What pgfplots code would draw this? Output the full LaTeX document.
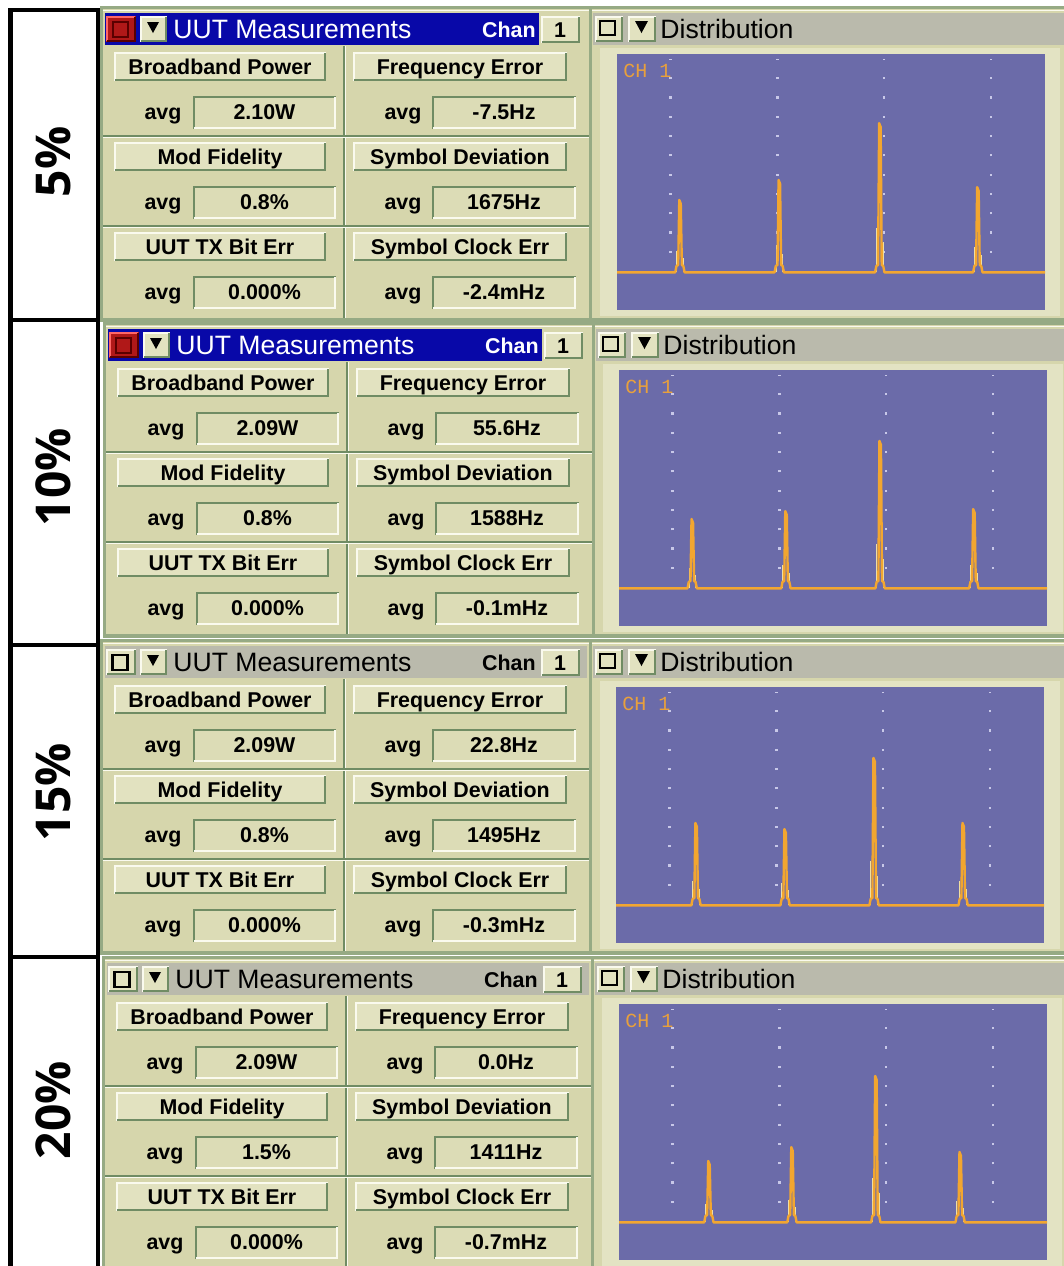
\documentclass[border=0pt]{standalone}
\usepackage{fontspec}
\setmainfont{Liberation Sans}
\newfontfamily\labelfont{Open Sans}
\newfontfamily\chfont{Liberation Mono}
\usepackage{pgfplots}
\pgfplotsset{compat=1.18}

\definecolor{panelbg}{RGB}{214,214,172}
\definecolor{btnface}{RGB}{226,226,192}
\definecolor{valbg}{RGB}{220,220,182}
\definecolor{hilite}{RGB}{250,250,238}
\definecolor{shadowc}{RGB}{112,140,100}
\definecolor{framec}{RGB}{150,170,132}
\definecolor{titlegrey}{RGB}{186,186,172}
\definecolor{titleblue}{RGB}{8,8,168}
\definecolor{redbtn}{RGB}{176,24,24}
\definecolor{darkred}{RGB}{90,0,0}
\definecolor{plotbg}{RGB}{107,107,169}
\definecolor{peakc}{RGB}{242,166,48}
\definecolor{palec}{RGB}{240,222,160}
\definecolor{gridc}{RGB}{200,200,232}
\definecolor{chcol}{RGB}{232,160,60}

\newcommand\bfs{\fontsize{10.7pt}{12pt}\selectfont\bfseries}
\newcommand\ttl{\fontsize{13.3pt}{16pt}\selectfont}
\newcommand\lab{\labelfont\bfseries\fontsize{24pt}{28pt}\selectfont}

\newcommand\raisedbox[4]{%
 \fill[btnface] (#1,#2) rectangle (#3,#4);
 \draw[hilite,line width=1pt] (#1+1,#4) -- (#1+1,#2+1) -- (#3,#2+1);
 \draw[shadowc,line width=1pt] (#1+1,#4-1) -- (#3-1,#4-1) -- (#3-1,#2+1);}
\newcommand\insetbox[4]{%
 \fill[valbg] (#1,#2) rectangle (#3,#4);
 \draw[shadowc,line width=1pt] (#1+1,#4) -- (#1+1,#2+1) -- (#3,#2+1);
 \draw[hilite,line width=1pt] (#1+1,#4-1) -- (#3-1,#4-1) -- (#3-1,#2+1);}
\newcommand\cellrow[5]{%
 \raisedbox{114}{52+#1}{326}{81+#1}
 \node[font=\bfs,anchor=base] at (220,74+#1) {#2};
 \raisedbox{353}{52+#1}{567}{81+#1}
 \node[font=\bfs,anchor=base] at (460,74+#1) {#4};
 \node[font=\bfs,anchor=base] at (163,119+#1) {avg};
 \insetbox{193}{96+#1}{336}{129+#1}
 \node[font=\bfs,anchor=base] at (264.5,119+#1) {#3};
 \node[font=\bfs,anchor=base] at (403,119+#1) {avg};
 \insetbox{432}{96+#1}{576}{129+#1}
 \node[font=\bfs,anchor=base] at (504,119+#1) {#5};}

\newcommand\uirow[9]{%
\begin{scope}[shift={(#1,#2)}]
 \fill[framec] (100,6) rectangle (1064,322);
 \fill[panelbg] (103,9) rectangle (589,318);
 \fill[panelbg] (592,9) rectangle (1064,318);
 \draw[hilite,line width=0.5pt] (103,10) -- (589,10);
 \draw[hilite,line width=0.5pt] (592,10) -- (1064,10);
 \ifnum#3=1
   \fill[titleblue] (105,13) rectangle (539,45);
   \fill[redbtn] (106,16) rectangle (136,42);
   \draw[red!60!white,line width=0.8pt] (107,41) -- (107,17) -- (135,17);
   \draw[darkred,line width=0.8pt] (107,41) -- (135,41) -- (135,17);
   \draw[darkred,line width=0.9pt] (113,22) rectangle (128,37);
   \def\tc{white}
 \else
   \fill[titlegrey] (105,13) rectangle (587,45);
   \raisedbox{106}{16}{136}{42}
   \draw[black,line width=1.1pt] (112.5,22) rectangle (127.5,37);
   \def\tc{black}
 \fi
 \raisedbox{140}{16}{167}{42}
 \fill[black] (147,22) -- (159,22) -- (153,33) -- cycle;
 \node[anchor=base west,font=\ttl,text=\tc,inner sep=0pt] at (173,38) {UUT Measurements};
 \node[anchor=base east,font=\bfs,text=\tc,inner sep=0pt] at (536,37) {Chan};
 \raisedbox{541}{16}{580}{43}
 \node[anchor=base,font=\bfs] at (560,37) {1};
 % separators
 \draw[shadowc,line width=0.6pt] (344,46) -- (344,318);
 \draw[hilite,line width=0.6pt] (345.5,46) -- (345.5,318);
 \draw[shadowc,line width=0.6pt] (103,136) -- (589,136);
 \draw[hilite,line width=0.6pt] (103,137.5) -- (589,137.5);
 \draw[shadowc,line width=0.6pt] (103,226) -- (589,226);
 \draw[hilite,line width=0.6pt] (103,227.5) -- (589,227.5);
 \cellrow{0}{Broadband Power}{#4}{Frequency Error}{#5}
 \cellrow{90}{Mod Fidelity}{#6}{Symbol Deviation}{#7}
 \cellrow{180}{UUT TX Bit Err}{#8}{Symbol Clock Err}{#9}
 % distribution panel title
 \fill[titlegrey] (593,13) rectangle (1064,45);
 \raisedbox{595}{16}{623}{42}
 \draw[black,line width=1.2pt] (600,21) rectangle (615,35);
 \raisedbox{628}{16}{656}{42}
 \fill[black] (635,21) -- (648,21) -- (641.5,33) -- cycle;
 \node[anchor=base west,font=\ttl,inner sep=0pt] at (660,38) {Distribution};
 \fill[hilite!35!panelbg] (600,48) rectangle (1060,316);
\end{scope}}

\pgfplotsset{dist/.style={anchor=south west,width=214pt,height=128pt,scale only axis,
  xmin=0,xmax=100,ymin=0,ymax=100,axis line style={draw=none},ticks=none,
  unbounded coords=jump,
  axis background/.style={fill=plotbg}}}
\newcommand\gridlines{%
 \addplot[gridc,line width=1.1pt,dash pattern=on 1.1pt off 8.55pt,forget plot] coordinates {(12.5,22.3)(12.5,98)};
 \addplot[gridc,line width=1.1pt,dash pattern=on 1.1pt off 8.55pt,forget plot] coordinates {(37.5,22.3)(37.5,98)};
 \addplot[gridc,line width=1.1pt,dash pattern=on 1.1pt off 8.55pt,forget plot] coordinates {(62.4,22.3)(62.4,98)};
 \addplot[gridc,line width=1.1pt,dash pattern=on 1.1pt off 8.55pt,forget plot] coordinates {(87.3,22.3)(87.3,98)};}
\newcommand\chlabel{\node[anchor=north west,text=chcol,font=\chfont\fontsize{10pt}{10pt}\selectfont,inner sep=0pt] at (rel axis cs:0.014,0.962) {CH 1};}

\begin{document}
\begin{tikzpicture}[x=0.5pt,y=-0.5pt]
\fill[white] (0,0) rectangle (1064,1266);
\useasboundingbox (0,0) rectangle (1064,1266);
\foreach \a/\b in {10/320,320/645,645/957,957/1290}
  \draw[line width=2.25pt] (10.5,\a) rectangle (98,\b);
\node[rotate=90,font=\lab] at (53,162) {5\%};
\node[rotate=90,font=\lab] at (53,477) {10\%};
\node[rotate=90,font=\lab] at (53,792) {15\%};
\node[rotate=90,font=\lab] at (53,1110) {20\%};

\uirow{0}{0}{1}{2.10W}{-7.5Hz}{0.8\%}{1675Hz}{0.000\%}{-2.4mHz}
\uirow{3}{316}{1}{2.09W}{55.6Hz}{0.8\%}{1588Hz}{0.000\%}{-0.1mHz}
\uirow{0}{633}{0}{2.09W}{22.8Hz}{0.8\%}{1495Hz}{0.000\%}{-0.3mHz}
\uirow{2}{950}{0}{2.09W}{0.0Hz}{1.5\%}{1411Hz}{0.000\%}{-0.7mHz}

% row 1 distribution
\begin{axis}[dist,at={(308.5pt,-155pt)}]
\gridlines
\addplot[palec,line width=0.45pt] coordinates {
(13.95,14.7)(13.95,23.2) (nan,nan) (15.5,14.7)(15.5,20.4) (nan,nan)
(37.15,14.7)(37.15,25.5) (nan,nan) (38.7,14.7)(38.7,21.9) (nan,nan)
(60.65,14.7)(60.65,32.2) (nan,nan) (62.2,14.7)(62.2,26.4) (nan,nan)
(83.55,14.7)(83.55,24.7) (nan,nan) (85.1,14.7)(85.1,21.4)};
\addplot[peakc,line width=1.2pt,line join=round] coordinates {
(0,14.7)
(13.6,14.7)(13.9,17.2)(14.3,17.6)(14.55,43.0)(14.9,41.5)(15.15,17.6)(15.5,17.2)(15.8,14.7)
(36.8,14.7)(37.1,17.2)(37.5,17.6)(37.75,50.8)(38.1,49.3)(38.35,17.6)(38.7,17.2)(39.0,14.7)
(60.3,14.7)(60.6,17.2)(61.0,17.6)(61.25,73.0)(61.6,71.5)(61.85,17.6)(62.2,17.2)(62.5,14.7)
(83.2,14.7)(83.5,17.2)(83.9,17.6)(84.15,48.0)(84.5,46.5)(84.75,17.6)(85.1,17.2)(85.4,14.7)
(100,14.7)};
\chlabel
\end{axis}
% row 2
\begin{axis}[dist,at={(309.5pt,-313pt)}]
\gridlines
\addplot[palec,line width=0.45pt] coordinates {
(16.35,14.7)(16.35,22.8) (nan,nan) (17.9,14.7)(17.9,20.1) (nan,nan)
(38.25,14.7)(38.25,23.8) (nan,nan) (39.8,14.7)(39.8,20.7) (nan,nan)
(60.25,14.7)(60.25,32.0) (nan,nan) (61.8,14.7)(61.8,26.2) (nan,nan)
(82.15,14.7)(82.15,24.0) (nan,nan) (83.7,14.7)(83.7,20.9)};
\addplot[peakc,line width=1.2pt,line join=round] coordinates {
(0,14.7)
(16.0,14.7)(16.3,17.2)(16.7,17.6)(16.95,41.8)(17.3,40.3)(17.55,17.6)(17.9,17.2)(18.2,14.7)
(37.9,14.7)(38.2,17.2)(38.6,17.6)(38.85,44.9)(39.2,43.4)(39.45,17.6)(39.8,17.2)(40.1,14.7)
(59.9,14.7)(60.2,17.2)(60.6,17.6)(60.85,72.3)(61.2,70.8)(61.45,17.6)(61.8,17.2)(62.1,14.7)
(81.8,14.7)(82.1,17.2)(82.5,17.6)(82.75,45.7)(83.1,44.2)(83.35,17.6)(83.7,17.2)(84.0,14.7)
(100,14.7)};
\chlabel
\end{axis}
% row 3
\begin{axis}[dist,at={(308pt,-471.5pt)}]
\gridlines
\addplot[palec,line width=0.45pt] coordinates {
(17.95,14.7)(17.95,24.4) (nan,nan) (19.5,14.7)(19.5,21.1) (nan,nan)
(38.75,14.7)(38.75,23.6) (nan,nan) (40.3,14.7)(40.3,20.7) (nan,nan)
(59.55,14.7)(59.55,32.0) (nan,nan) (61.1,14.7)(61.1,26.2) (nan,nan)
(80.35,14.7)(80.35,24.4) (nan,nan) (81.9,14.7)(81.9,21.1)};
\addplot[peakc,line width=1.2pt,line join=round] coordinates {
(0,14.7)
(17.6,14.7)(17.9,17.2)(18.3,17.6)(18.55,46.9)(18.9,45.4)(19.15,17.6)(19.5,17.2)(19.8,14.7)
(38.4,14.7)(38.7,17.2)(39.1,17.6)(39.35,44.5)(39.7,43.0)(39.95,17.6)(40.3,17.2)(40.6,14.7)
(59.2,14.7)(59.5,17.2)(59.9,17.6)(60.15,72.3)(60.5,70.8)(60.75,17.6)(61.1,17.2)(61.4,14.7)
(80.0,14.7)(80.3,17.2)(80.7,17.6)(80.95,46.9)(81.3,45.4)(81.55,17.6)(81.9,17.2)(82.2,14.7)
(100,14.7)};
\chlabel
\end{axis}
% row 4
\begin{axis}[dist,at={(309.5pt,-630pt)}]
\gridlines
\addplot[palec,line width=0.45pt] coordinates {
(20.25,14.7)(20.25,21.9) (nan,nan) (21.8,14.7)(21.8,19.5) (nan,nan)
(39.65,14.7)(39.65,23.5) (nan,nan) (41.2,14.7)(41.2,20.6) (nan,nan)
(59.25,14.7)(59.25,31.9) (nan,nan) (60.8,14.7)(60.8,26.1) (nan,nan)
(78.95,14.7)(78.95,23.0) (nan,nan) (80.5,14.7)(80.5,20.2)};
\addplot[peakc,line width=1.2pt,line join=round] coordinates {
(0,14.7)
(19.9,14.7)(20.2,17.2)(20.6,17.6)(20.85,38.7)(21.2,37.2)(21.45,17.6)(21.8,17.2)(22.1,14.7)
(39.3,14.7)(39.6,17.2)(40.0,17.6)(40.25,44.1)(40.6,42.6)(40.85,17.6)(41.2,17.2)(41.5,14.7)
(58.9,14.7)(59.2,17.2)(59.6,17.6)(59.85,71.9)(60.2,70.4)(60.45,17.6)(60.8,17.2)(61.1,14.7)
(78.6,14.7)(78.9,17.2)(79.3,17.6)(79.55,42.2)(79.9,40.7)(80.15,17.6)(80.5,17.2)(80.8,14.7)
(100,14.7)};
\chlabel
\end{axis}
\end{tikzpicture}
\end{document}
